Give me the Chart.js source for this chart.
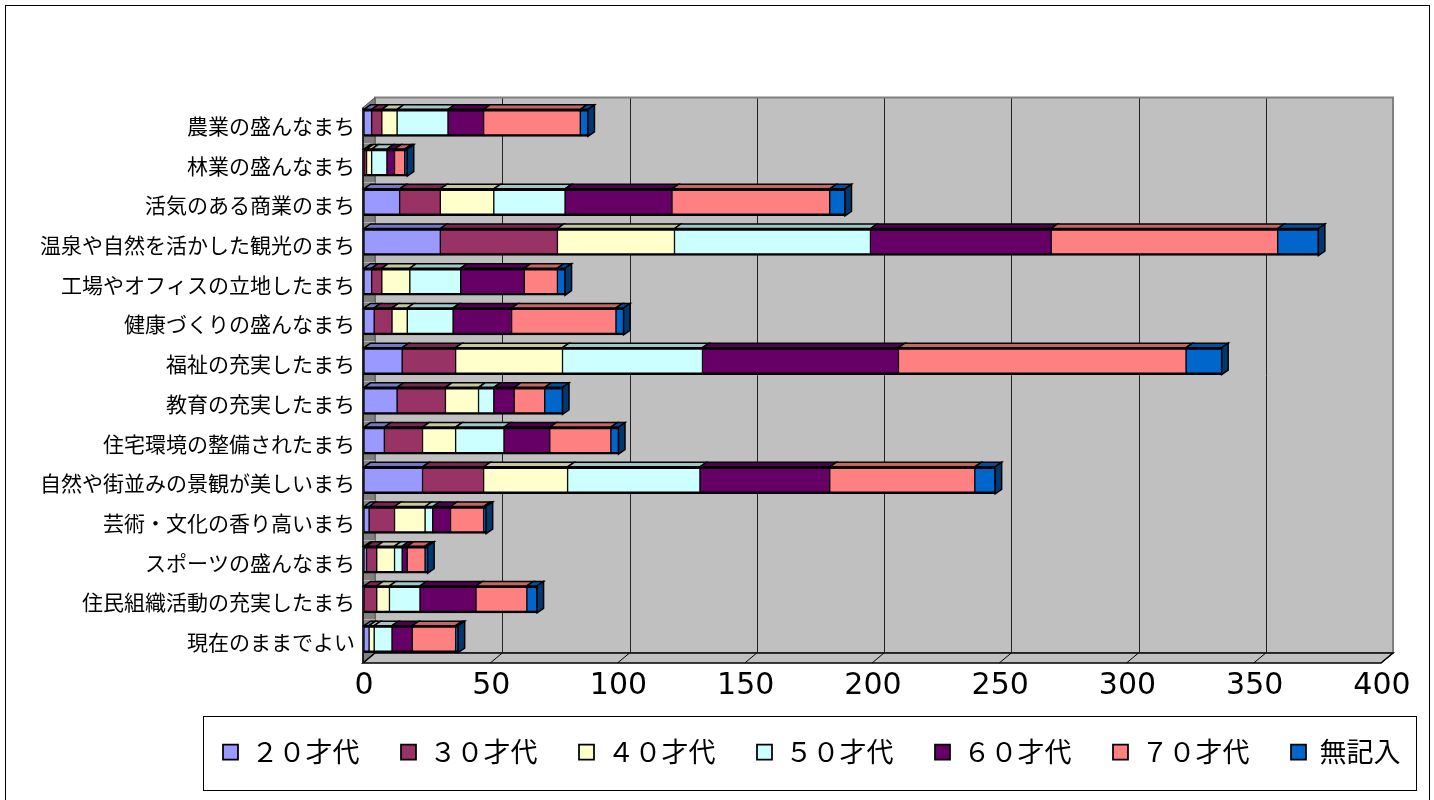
<!DOCTYPE html>
<html lang="ja">
<head>
<meta charset="utf-8">
<title>望ましいまちの姿（年代別）</title>
<script src="https://cdn.jsdelivr.net/npm/chart.js"></script>
<style>
  html, body { margin: 0; padding: 0; background: #fff; }
  canvas { display: block; }
</style>
</head>
<body>
<canvas id="grafico" width="1434" height="800"></canvas>
<script>
// ===== Dados
const categorias = [
  '農業の盛んなまち',
  '林業の盛んなまち',
  '活気のある商業のまち',
  '温泉や自然を活かした観光のまち',
  '工場やオフィスの立地したまち',
  '健康づくりの盛んなまち',
  '福祉の充実したまち',
  '教育の充実したまち',
  '住宅環境の整備されたまち',
  '自然や街並みの景観が美しいまち',
  '芸術・文化の香り高いまち',
  'スポーツの盛んなまち',
  '住民組織活動の充実したまち',
  '現在のままでよい'
];
const seriesNomes = ['２０才代', '３０才代', '４０才代', '５０才代', '６０才代', '７０才代', '無記入'];
const idade20 = [3, 0, 14, 30, 3, 4, 15, 13, 8, 23, 2, 1, 0, 2];
const idade30 = [4, 1, 16, 46, 4, 7, 21, 19, 15, 24, 10, 4, 5, 0];
const idade40 = [6, 2, 21, 46, 11, 6, 42, 13, 13, 33, 12, 7, 5, 2];
const idade50 = [20, 6, 28, 77, 20, 18, 55, 6, 19, 52, 3, 3, 12, 7];
const idade60 = [14, 3, 42, 71, 25, 23, 77, 8, 18, 51, 7, 2, 22, 8];
const idade70 = [38, 4, 62, 89, 13, 41, 113, 12, 24, 57, 13, 7, 20, 17];
const semResp = [3, 1, 6, 16, 3, 3, 14, 7, 3, 8, 1, 1, 4, 1];
const xTicks  = [0, 50, 100, 150, 200, 250, 300, 350, 400];

const cores = ['#9999FF', '#993366', '#FFFFCC', '#CCFFFF', '#660066', '#FF8080', '#0066CC'];
const valores = [idade20, idade30, idade40, idade50, idade60, idade70, semResp];

// ===== Geometria do efeito 3D (estilo Excel)
const PAREDE = { dx: 12, dy: 10 };     // profundidade das paredes
const BARRA  = { dx: 6.5, dy: 4.5 };   // profundidade das barras
const FONTE_JP = "'Noto Sans CJK JP', 'Noto Sans', sans-serif";

function escurecer(hex, f) {
  const n = parseInt(hex.slice(1), 16);
  const r = Math.round(((n >> 16) & 255) * f);
  const g = Math.round(((n >> 8) & 255) * f);
  const b = Math.round((n & 255) * f);
  return `rgb(${r},${g},${b})`;
}

// ===== Plugin: paredes, grade, caixa da legenda e faces 3D das barras
const efeito3D = {
  id: 'efeito3D',
  afterLayout(chart) {
    // legenda deslocada para a posição do original
    const lg = chart.legend;
    if (!lg) return;
    const pad = lg.options.labels.padding;
    const sx = 223 - pad - lg.left;
    const sy = 752 - pad - 13.5 - lg.top;
    lg.left += sx; lg.right += sx;
    lg.top += sy; lg.bottom += sy;
  },
  beforeDraw(chart) {
    const { ctx, chartArea: a, scales: { x, y } } = chart;
    const { dx, dy } = PAREDE;
    const fl = a.left - 1, fr = x.getPixelForValue(400) - 1;
    const ft = a.top + 4.5, fb = a.bottom + 4;

    ctx.save();
    ctx.fillStyle = '#fff';
    ctx.fillRect(0, 0, chart.width, chart.height);

    // moldura externa
    ctx.strokeStyle = '#000';
    ctx.lineWidth = 1;
    ctx.strokeRect(5.5, 5.5, 1424, 800);

    // parede do fundo
    ctx.fillStyle = '#c0c0c0';
    ctx.fillRect(fl + dx, ft - dy, fr - fl, fb - ft);
    ctx.strokeStyle = '#222';
    ctx.lineWidth = 1;
    x.ticks.forEach(t => {
      const px = Math.round(x.getPixelForValue(t.value) - 1 + dx) + 0.5;
      ctx.beginPath();
      ctx.moveTo(px, ft - dy);
      ctx.lineTo(px, fb - dy);
      ctx.stroke();
    });
    ctx.strokeStyle = '#808080';
    ctx.lineWidth = 2;
    ctx.strokeRect(fl + dx, ft - dy, fr - fl, fb - ft);

    // parede lateral esquerda
    ctx.fillStyle = '#808080';
    ctx.beginPath();
    ctx.moveTo(fl, ft);
    ctx.lineTo(fl + dx, ft - dy);
    ctx.lineTo(fl + dx, fb - dy);
    ctx.lineTo(fl, fb);
    ctx.closePath();
    ctx.fill();
    ctx.strokeStyle = '#555';
    ctx.lineWidth = 1;
    ctx.stroke();

    // linhas das categorias na parede lateral
    const banda = (a.bottom - a.top) / categorias.length;
    ctx.strokeStyle = '#b0b0b0';
    for (let i = 1; i < categorias.length; i++) {
      const yb = Math.round(a.top + i * banda) + 0.5;
      ctx.beginPath();
      ctx.moveTo(fl, yb);
      ctx.lineTo(fl + dx, yb);
      ctx.stroke();
    }

    // piso
    ctx.fillStyle = '#c0c0c0';
    ctx.beginPath();
    ctx.moveTo(fl, fb);
    ctx.lineTo(fl + dx, fb - dy);
    ctx.lineTo(fr + dx, fb - dy);
    ctx.lineTo(fr, fb);
    ctx.closePath();
    ctx.fill();
    ctx.strokeStyle = '#000';
    ctx.lineWidth = 1.5;
    ctx.stroke();
    ctx.lineWidth = 1;
    x.ticks.forEach(t => {
      const px = x.getPixelForValue(t.value) - 1;
      ctx.beginPath();
      ctx.moveTo(px, fb);
      ctx.lineTo(px + dx, fb - dy);
      ctx.stroke();
    });

    // eixo vertical frontal
    ctx.lineWidth = 1.5;
    ctx.beginPath();
    ctx.moveTo(fl, ft);
    ctx.lineTo(fl, fb);
    ctx.stroke();

    // caixa da legenda
    const hb = chart.legend && chart.legend.legendHitBoxes;
    if (hb && hb.length) {
      const first = hb[0], last = hb[hb.length - 1];
      const cy = first.top + first.height / 2;
      const l = Math.round(first.left - 20) + 0.5;
      const r = Math.round(last.left + last.width + 16) + 0.5;
      ctx.fillStyle = '#fff';
      ctx.fillRect(l, cy - 36, r - l, 74);
      ctx.strokeStyle = '#000';
      ctx.lineWidth = 1;
      ctx.strokeRect(l, Math.round(cy - 36) + 0.5, r - l, 74);
    }
    ctx.restore();
  },
  afterDatasetsDraw(chart) {
    const { ctx } = chart;
    const { dx, dy } = BARRA;
    const ultimo = [];
    ctx.save();
    ctx.strokeStyle = '#000';
    ctx.lineWidth = 1.5;
    chart.data.datasets.forEach((ds, i) => {
      const meta = chart.getDatasetMeta(i);
      meta.data.forEach((bar, j) => {
        if (!ds.data[j]) return;
        const { x, y, base, height } = bar.getProps(['x', 'y', 'base', 'height'], true);
        const top = y - height / 2;
        ctx.fillStyle = escurecer(cores[i], 0.78);
        ctx.beginPath();
        ctx.moveTo(base, top);
        ctx.lineTo(base + dx, top - dy);
        ctx.lineTo(x + dx, top - dy);
        ctx.lineTo(x, top);
        ctx.closePath();
        ctx.fill();
        ctx.stroke();
        ultimo[j] = { x, top, bottom: y + height / 2, cor: cores[i] };
      });
    });
    // face lateral na ponta de cada barra
    ultimo.forEach(u => {
      if (!u) return;
      ctx.fillStyle = escurecer(u.cor, 0.55);
      ctx.beginPath();
      ctx.moveTo(u.x, u.top);
      ctx.lineTo(u.x + dx, u.top - dy);
      ctx.lineTo(u.x + dx, u.bottom - dy);
      ctx.lineTo(u.x, u.bottom);
      ctx.closePath();
      ctx.fill();
      ctx.stroke();
    });
    ctx.restore();
  }
};

// ===== Criação do gráfico
Chart.defaults.color = '#000';

const ctx = document.getElementById('grafico').getContext('2d');
new Chart(ctx, {
  type: 'bar',
  data: {
    labels: categorias,
    datasets: seriesNomes.map((nome, i) => ({
      label: nome,
      data: valores[i],
      backgroundColor: cores[i],
      borderColor: '#000',
      borderWidth: { top: 2.5, bottom: 2.5, left: 1, right: 1 },
      borderSkipped: false,
      barThickness: 27
    }))
  },
  options: {
    indexAxis: 'y',
    responsive: false,
    devicePixelRatio: 1,
    animation: false,
    layout: { padding: { top: 103, right: 52, bottom: 0, left: 0 } },
    plugins: {
      legend: {
        position: 'bottom',
        align: 'start',
        labels: {
          boxWidth: 15,
          boxHeight: 15,
          padding: 41.5,
          color: '#000',
          font: { family: FONTE_JP, size: 27 }
        }
      },
      tooltip: { enabled: false }
    },
    scales: {
      x: {
        stacked: true,
        min: 0,
        max: 400,
        afterBuildTicks: s => { s.ticks = xTicks.map(v => ({ value: v })); },
        afterFit: s => { s.height = 62.5; },
        grid: { display: false, drawTicks: false },
        border: { display: false },
        ticks: {
          autoSkip: false,
          maxRotation: 0,
          padding: 9,
          color: '#000',
          font: { family: "'DejaVu Sans', sans-serif", size: 30 }
        }
      },
      y: {
        stacked: true,
        afterFit: s => { s.width = 364; },
        grid: { display: false, drawTicks: false },
        border: { display: false },
        ticks: {
          autoSkip: false,
          padding: 9,
          labelOffset: 3,
          color: '#000',
          font: { family: FONTE_JP, size: 21 }
        }
      }
    }
  },
  plugins: [efeito3D]
});
</script>
</body>
</html>
